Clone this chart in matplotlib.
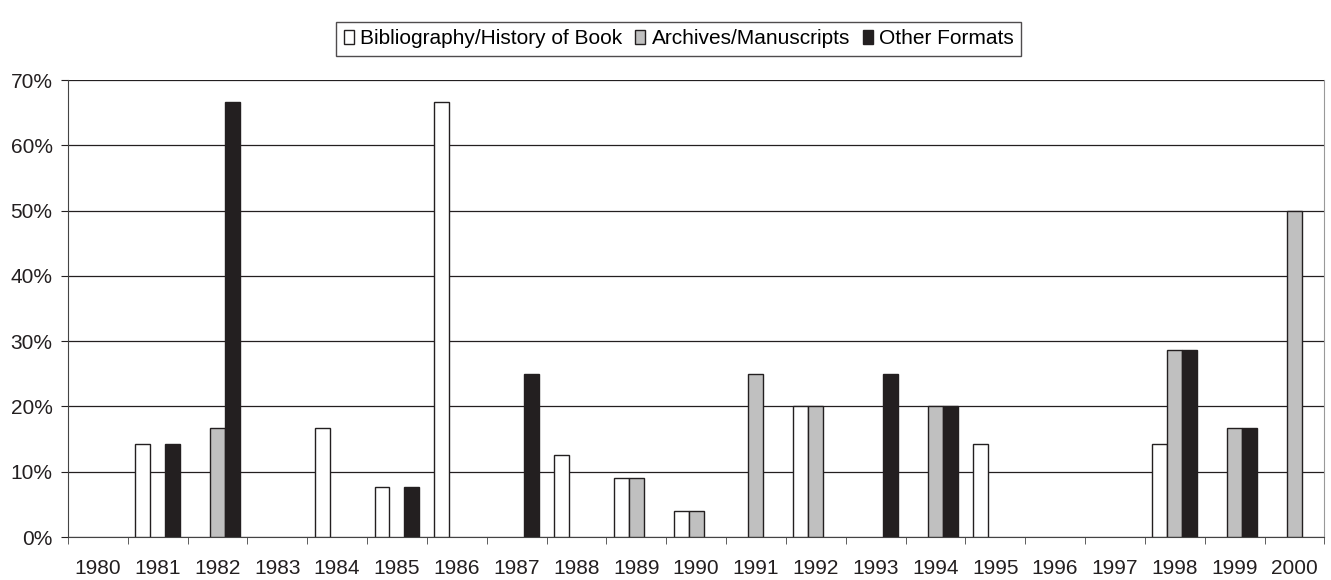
import numpy as np
import matplotlib
matplotlib.use("Agg")
import matplotlib.pyplot as plt
from matplotlib.ticker import FuncFormatter

plt.rcParams["font.family"] = ["Liberation Sans", "DejaVu Sans"]

# ── Data (percent) ───────────────────────────────────────────────────────────
years = [str(y) for y in range(1980, 2001)]
bibliography = [0, 14.3, 0, 0, 16.7, 7.7, 66.7, 0, 12.5, 9.1, 4.0,
                0, 20.0, 0, 0, 14.3, 0, 0, 14.3, 0, 0]
archives = [0, 0, 16.7, 0, 0, 0, 0, 0, 0, 9.1, 4.0,
            25.0, 20.0, 0, 20.0, 0, 0, 0, 28.6, 16.7, 50.0]
other = [0, 14.3, 66.7, 0, 0, 7.7, 0, 25.0, 0, 0, 0,
         0, 0, 25.0, 20.0, 0, 0, 0, 28.6, 16.7, 0]
series_names = ["Bibliography/History of Book", "Archives/Manuscripts", "Other Formats"]
series_colors = ["white", "#c0c0c0", "#231f20"]

FS = 15

fig = plt.figure(figsize=(13.31, 5.8), dpi=100)
ax = fig.add_axes([0.051, 0.074, 0.944, 0.788])

x = np.arange(len(years))
w = 0.25
for i, (vals, name, col) in enumerate(zip([bibliography, archives, other],
                                            series_names, series_colors)):
    vals = np.array(vals, dtype=float)
    hv = np.where(vals > 0, vals, np.nan)
    ax.bar(x + (i - 1) * w, hv, w, color=col, edgecolor="#231f20",
           linewidth=1.0, label=name, zorder=3)

ax.set_xlim(-0.5, len(years) - 0.5)
ax.set_ylim(0, 70)
ax.set_yticks(np.arange(0, 71, 10))
ax.yaxis.set_major_formatter(FuncFormatter(lambda v, _: f"{v:.0f}%"))
ax.yaxis.grid(True, color="#231f20", linewidth=0.9, zorder=0)

# category labels centred, tick marks between categories
ax.set_xticks(x)
ax.set_xticklabels(years)
ax.tick_params(axis="x", length=0, pad=16, labelsize=FS, colors="#231f20")
ax.set_xticks(np.arange(-0.5, len(years)), minor=True)
ax.tick_params(axis="x", which="minor", length=5, direction="out", color="#444444")
ax.tick_params(axis="y", length=5, labelsize=FS, colors="#231f20", pad=6)

ax.spines["top"].set_visible(False)
ax.spines["right"].set_color("#999999")
ax.spines["left"].set_color("#444444")
ax.spines["bottom"].set_color("#444444")

leg = fig.legend(loc="upper center", bbox_to_anchor=(0.51, 0.98), ncol=3,
                 frameon=True, fancybox=False, edgecolor="#231f20",
                 fontsize=FS, handlelength=0.5, handleheight=0.7,
                 handletextpad=0.3, columnspacing=0.6, borderpad=0.35)
leg.get_frame().set_linewidth(1.0)

fig.savefig("out.png", dpi=100, facecolor="white")
